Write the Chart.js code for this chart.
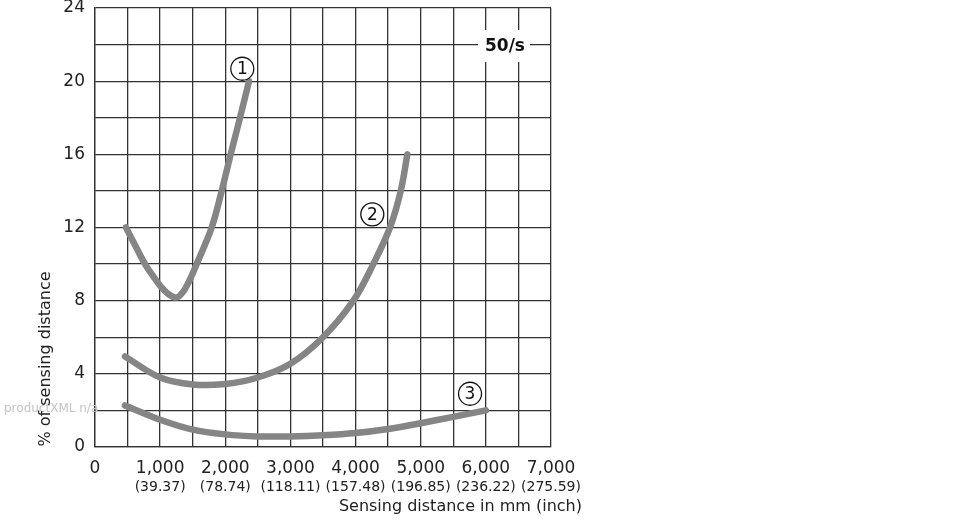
<!DOCTYPE html>
<html>
<head>
<meta charset="utf-8">
<script src="https://cdn.jsdelivr.net/npm/chart.js@4"></script>
<style>
  html, body { margin: 0; padding: 0; background: #fff; }
  #wrap { width: 970px; height: 520px; }
</style>
</head>
<body>
<div id="wrap"><canvas id="chart" width="970" height="520"></canvas></div>
<script>
// axis labels
const xTickLabels = ['0', '1,000', '2,000', '3,000', '4,000', '5,000', '6,000', '7,000'];
const xInchLabels = ['', '(39.37)', '(78.74)', '(118.11)', '(157.48)', '(196.85)', '(236.22)', '(275.59)'];
const yTickLabels = ['0', '4', '8', '12', '16', '20', '24'];

// curve 1
const curve1X = [476, 620, 768, 900, 1013, 1130, 1254, 1356, 1450, 1561, 1791, 1945, 2083, 2226, 2364];
const curve1Y = [12.0, 11.0, 10.0, 9.3, 8.76, 8.35, 8.17, 8.5, 9.1, 10.0, 12.0, 14.0, 16.0, 18.0, 20.0];
// curve 2
const curve2X = [460, 1000, 1500, 2000, 2500, 3000, 3500, 3966, 4272, 4528, 4693, 4795];
const curve2Y = [4.95, 3.8, 3.42, 3.45, 3.8, 4.55, 6.0, 8.0, 10.0, 12.0, 14.0, 16.0];
// curve 3
const curve3X = [460, 1000, 1500, 2000, 2500, 3000, 3500, 4000, 4500, 5000, 5500, 6000];
const curve3Y = [2.27, 1.49, 0.95, 0.69, 0.58, 0.58, 0.64, 0.76, 0.98, 1.3, 1.65, 2.0];

const curveColor = '#858585';
const gridColor = '#333333';
const font = '"DejaVu Sans", sans-serif';

function pts(xs, ys) {
  return xs.map((x, i) => ({ x: x, y: ys[i] }));
}

function curve(xs, ys) {
  return {
    data: pts(xs, ys),
    borderColor: curveColor,
    borderWidth: 6.5,
    borderCapStyle: 'round',
    borderJoinStyle: 'round',
    pointRadius: 0,
    tension: 0.35,
    fill: false
  };
}

// labels: circled numbers, 50/s box, inch sub labels, axis titles
const annotations = {
  id: 'annotations',
  afterDraw(chart) {
    const ctx = chart.ctx;
    const xs = chart.scales.x;
    const ys = chart.scales.y;
    ctx.save();

    // 50/s label in a white box over the grid
    ctx.fillStyle = '#fff';
    ctx.fillRect(478, 30, 52, 32);
    ctx.fillStyle = '#111';
    ctx.font = 'bold 17px ' + font;
    ctx.textAlign = 'center';
    ctx.textBaseline = 'middle';
    ctx.fillText('50/s', 505, 47);

    // circled curve numbers
    const marks = [['1', 2261, 20.68], ['2', 4257, 12.72], ['3', 5757, 2.91]];
    marks.forEach(m => {
      const cx = xs.getPixelForValue(m[1]);
      const cy = ys.getPixelForValue(m[2]);
      ctx.fillStyle = '#fff';
      ctx.beginPath();
      ctx.arc(cx, cy, 11.5, 0, Math.PI * 2);
      ctx.fill();
      ctx.strokeStyle = '#111';
      ctx.lineWidth = 1.3;
      ctx.stroke();
      ctx.fillStyle = '#111';
      ctx.font = '17px ' + font;
      ctx.fillText(m[0], cx, cy + 1);
    });

    // inch sub labels under the mm ticks
    ctx.fillStyle = '#222';
    ctx.font = '14px ' + font;
    xInchLabels.forEach((t, i) => {
      if (!t) return;
      ctx.fillText(t, xs.getPixelForValue(i * 1000), 487);
    });

    // x title
    ctx.font = '16px ' + font;
    ctx.textAlign = 'right';
    ctx.fillText('Sensing distance in mm (inch)', 582, 507);

    // watermark
    ctx.fillStyle = '#c4c4c4';
    ctx.font = '12px ' + font;
    ctx.textAlign = 'left';
    ctx.fillText('productXML n/a', 4, 409);

    // y title
    ctx.translate(46, 359);
    ctx.rotate(-Math.PI / 2);
    ctx.fillStyle = '#222';
    ctx.font = '16px ' + font;
    ctx.textAlign = 'center';
    ctx.fillText('% of sensing distance', 0, 0);

    ctx.restore();
  }
};

new Chart(document.getElementById('chart').getContext('2d'), {
  type: 'line',
  data: {
    datasets: [curve(curve1X, curve1Y), curve(curve2X, curve2Y), curve(curve3X, curve3Y)]
  },
  options: {
    responsive: false,
    animation: false,
    layout: { padding: { left: 0, top: 8, right: 419, bottom: 0 } },
    plugins: { legend: { display: false }, tooltip: { enabled: false } },
    scales: {
      x: {
        type: 'linear',
        min: 0,
        max: 7000,
        afterFit: s => { s.height = 73; s.paddingLeft = 0; s.paddingRight = 0; },
        ticks: {
          stepSize: 500,
          autoSkip: false,
          maxRotation: 0,
          padding: 11,
          color: '#222',
          font: { family: font, size: 17 },
          callback: v => (v % 1000 === 0 ? xTickLabels[v / 1000] : '')
        },
        grid: { color: gridColor, lineWidth: 1.3, drawTicks: false },
        border: { color: gridColor, width: 1.3 }
      },
      y: {
        min: 0,
        max: 24,
        afterFit: s => { s.width = 95; s.paddingTop = 0; s.paddingBottom = 0; },
        ticks: {
          stepSize: 2,
          padding: 10,
          color: '#222',
          font: { family: font, size: 17 },
          callback: v => (v % 4 === 0 ? yTickLabels[v / 4] : '')
        },
        grid: { color: gridColor, lineWidth: 1.3, drawTicks: false },
        border: { color: gridColor, width: 1.3 }
      }
    }
  },
  plugins: [annotations]
});
</script>
</body>
</html>
